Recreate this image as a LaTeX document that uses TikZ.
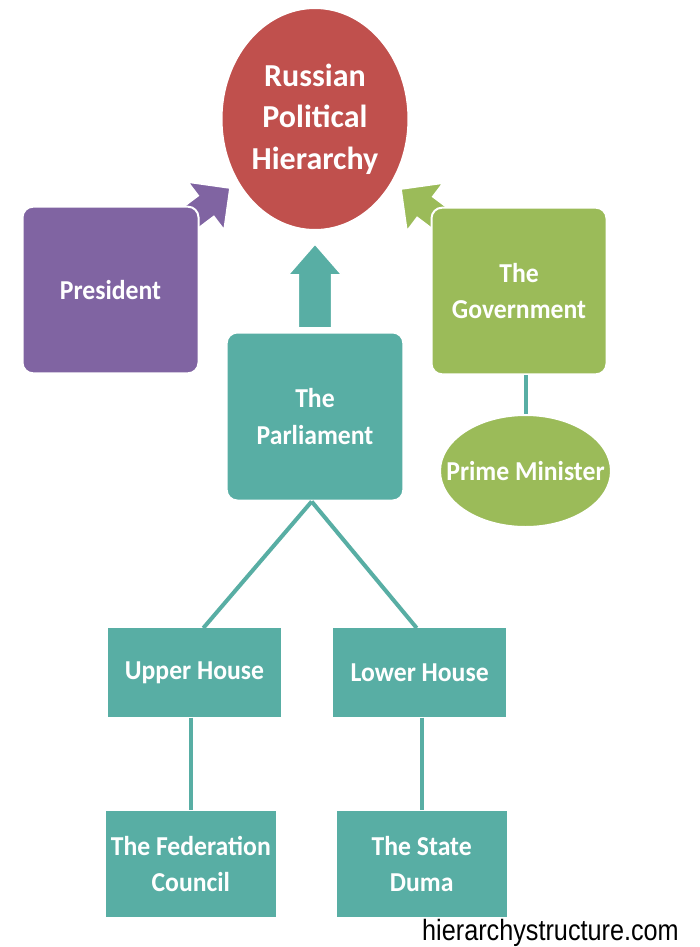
\documentclass[tikz,border=0pt]{standalone}
\usepackage{fontspec}
\setmainfont{Carlito}
\newfontfamily\wmfont{Liberation Sans}
\usetikzlibrary{shapes.geometric}
\definecolor{cred}{HTML}{C0504D}
\definecolor{cpurple}{HTML}{8064A2}
\definecolor{cgreen}{HTML}{9BBB59}
\definecolor{cteal}{HTML}{58AEA4}
\newcommand{\nq}[1]{\scalebox{0.94}[1]{#1}}
\begin{document}
\begin{tikzpicture}[x=0.75pt,y=-0.75pt,
  lbl/.style={text=white,font=\bfseries\fontsize{20.5}{27.5}\selectfont,align=center,inner sep=0pt},
  rbox/.style={lbl,rectangle,rounded corners=8pt,draw=white,line width=1.5pt},
  sqbox/.style={lbl,rectangle,fill=cteal},
  oval/.style={lbl,ellipse,draw=white,line width=1.5pt},
  conn/.style={draw=cteal,line width=3pt},
  blockarrow/.style={draw=white,line width=1.2pt}
]
\useasboundingbox (0,0) rectangle (700,947);
\fill[white] (0,0) rectangle (700,947);

% block arrows
\begin{scope}[shift={(230,188)},rotate=37]
  \filldraw[blockarrow,fill=cpurple] (0,0) -- (-30,-30) -- (-30,-13) -- (-75,-13) -- (-75,13) -- (-30,13) -- (-30,30) -- cycle;
\end{scope}
\begin{scope}[shift={(401,189)},rotate=143]
  \filldraw[blockarrow,fill=cgreen] (0,0) -- (-30,-30) -- (-30,-13) -- (-75,-13) -- (-75,13) -- (-30,13) -- (-30,30) -- cycle;
\end{scope}
\begin{scope}[shift={(315,244)},rotate=90]
  \filldraw[blockarrow,fill=cteal] (0,0) -- (-31,-27) -- (-31,-16.7) -- (-84,-16.7) -- (-84,16.7) -- (-31,16.7) -- (-31,27) -- cycle;
\end{scope}

% nodes
\node[oval,fill=cred,minimum width=140.25pt,minimum height=166.5pt,font=\bfseries\fontsize{24}{31}\selectfont] (title) at (315,119) {Russian\\Political\\Hierarchy};
\node[rbox,fill=cpurple,minimum width=132pt,minimum height=125pt] (pres) at (110.5,290) {\nq{President}};
\node[rbox,fill=cgreen,minimum width=131.25pt,minimum height=125pt] (gov) at (519,291) {\nq{The}\\\nq{Government}};
\node[rbox,fill=cteal,minimum width=132.5pt,minimum height=126pt] (parl) at (315,416.5) {\nq{The}\\\nq{Parliament}};
\node[oval,fill=cgreen,minimum width=128.25pt,minimum height=84pt] (pm) at (525.5,471) {\makebox[0pt]{\nq{Prime Minister}}};
\node[sqbox,minimum width=129.3pt,minimum height=66.75pt] (upper) at (194.5,672.8) {\nq{Upper House}};
\node[sqbox,minimum width=129.5pt,minimum height=66.75pt] (lower) at (419.7,672.8) {\nq{Lower House}};
\node[sqbox,minimum width=127.25pt,minimum height=80pt] (fed) at (190.8,864) {\nq{The Federation}\\\nq{Council}};
\node[sqbox,minimum width=127.5pt,minimum height=80pt] (duma) at (421.7,864) {\nq{The State}\\\nq{Duma}};

% connectors
\draw[conn] (gov.south -| pm.north) -- (pm.north);
\draw[conn] ([xshift=-2.5pt]parl.south) -- ([xshift=6.6pt]upper.north);
\draw[conn] ([xshift=-2.5pt]parl.south) -- ([xshift=-2.25pt]lower.north);
\draw[conn] (upper.south -| fed.north) -- (fed.north);
\draw[conn] (lower.south -| duma.north) -- (duma.north);

% watermark
\node[font=\wmfont\fontsize{22}{22}\selectfont,xscale=0.86,anchor=east,inner sep=0pt] (wm) at (679,933) {hierarchystructure.com};
\end{tikzpicture}
\end{document}
